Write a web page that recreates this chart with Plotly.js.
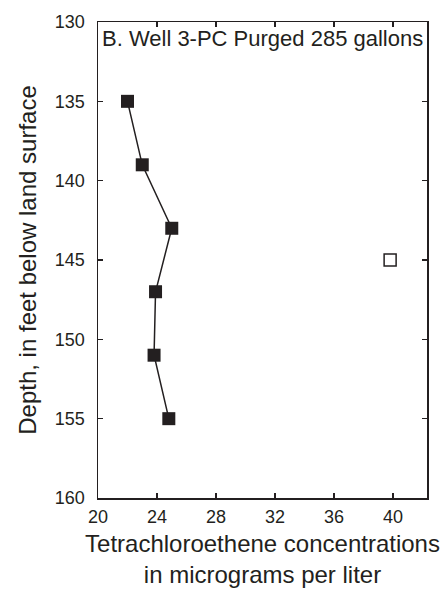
<!DOCTYPE html>
<html>
<head>
<meta charset="utf-8">
<script src="https://cdn.plot.ly/plotly-3.0.1.min.js"></script>
<style>html,body{margin:0;padding:0;background:#fff;}#chart{width:442px;height:599px;}</style>
</head>
<body>
<div id="chart"></div>
<script>
const purgedConc = [22, 23, 25, 23.9, 23.8, 24.8];
const purgedDepth = [135, 139, 143, 147, 151, 155];
const otherConc = [39.8];
const otherDepth = [145];
const xTicks = [20, 24, 28, 32, 36, 40];
const yTicks = [130, 135, 140, 145, 150, 155, 160];
const chartTitle = 'B. Well 3-PC Purged 285 gallons';

const font = '"Liberation Sans", Arial, sans-serif';
const traces = [
  {x: purgedConc, y: purgedDepth, type: 'scatter', mode: 'lines+markers',
   line: {color: '#231f20', width: 1.5},
   marker: {symbol: 'square', size: 13, color: '#231f20'}},
  {x: otherConc, y: otherDepth, type: 'scatter', mode: 'markers',
   marker: {symbol: 'square-open', size: 12, color: '#231f20', line: {width: 1.5, color: '#231f20'}}}
];
const layout = {
  width: 442, height: 599,
  margin: {l: 98, r: 15, t: 22, b: 101},
  showlegend: false,
  paper_bgcolor: '#fff', plot_bgcolor: '#fff',
  font: {family: font, color: '#231f20', size: 18},
  xaxis: {range: [20, 42.3], tickvals: xTicks, ticktext: xTicks.map(String),
    ticks: 'inside', ticklen: 5, tickwidth: 1.2, tickcolor: '#231f20',
    showline: true, linecolor: '#231f20', linewidth: 1.5, mirror: 'ticks',
    showgrid: false, zeroline: false, tickfont: {size: 18}, ticklabelstandoff: 2,
    title: {text: 'Tetrachloroethene concentrations<br>in micrograms per liter', font: {size: 24}, standoff: 9}},
  yaxis: {range: [160, 130], tickvals: yTicks, ticktext: yTicks.map(String),
    ticks: 'inside', ticklen: 5, tickwidth: 1.2, tickcolor: '#231f20',
    showline: true, linecolor: '#231f20', linewidth: 1.5, mirror: 'ticks',
    showgrid: false, zeroline: false, tickfont: {size: 18}, ticklabelstandoff: 8,
    title: {text: 'Depth, in feet below land surface', font: {size: 24}, standoff: 11}},
  annotations: [{text: chartTitle, xref: 'paper', yref: 'paper', x: 0.5, y: 0.995,
    xanchor: 'center', yanchor: 'top', showarrow: false, font: {size: 22}}]
};
Plotly.newPlot('chart', traces, layout, {staticPlot: true, displayModeBar: false});
</script>
</body>
</html>
